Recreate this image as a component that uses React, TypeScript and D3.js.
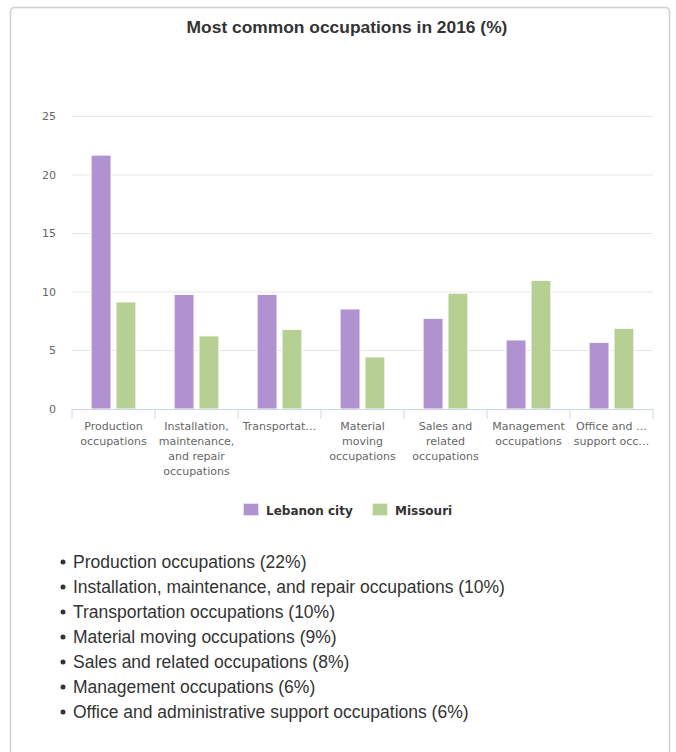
import React from "react";
import * as d3 from "d3";

const categories = [
  "Production occupations",
  "Installation, maintenance, and repair occupations",
  "Transportation occupations",
  "Material moving occupations",
  "Sales and related occupations",
  "Management occupations",
  "Office and administrative support occupations",
];
const tickLabels = [
  ["Production", "occupations"],
  ["Installation,", "maintenance,", "and repair", "occupations"],
  ["Transportat…"],
  ["Material", "moving", "occupations"],
  ["Sales and", "related", "occupations"],
  ["Management", "occupations"],
  ["Office and …", "support occ…"],
];
const lebanon = [21.7, 9.8, 9.8, 8.55, 7.75, 5.9, 5.7];
const missouri = [9.15, 6.25, 6.8, 4.45, 9.9, 11.0, 6.9];
const seriesNames = ["Lebanon city", "Missouri"];
const colors = ["#af92cf", "#b6d094"];
const yTicks = [0, 5, 10, 15, 20, 25];
const listPercents = lebanon.map((v) => Math.round(v));

const W = 676;
const H = 752;
const plot = { left: 72, right: 653, top: 116.5, bottom: 409 };
const axisFont = "'DejaVu Sans', Verdana, sans-serif";
const htmlFont = "'Liberation Sans', Arial, sans-serif";

export default function App() {
  const x = d3.scaleBand<string>().domain(categories).range([plot.left, plot.right]).paddingInner(0).paddingOuter(0);
  const y = d3.scaleLinear().domain([0, 25]).range([plot.bottom, plot.top]);
  const bw = x.bandwidth();
  const groupPad = bw * 0.2;
  const inner = d3
    .scaleBand<number>()
    .domain([0, 1])
    .range([groupPad, bw - groupPad]);
  const slot = inner.bandwidth();
  const pointPad = slot * 0.1;
  const series = [lebanon, missouri];
  const boundaries = categories.map((c) => x(c) as number).concat([plot.right]);

  return (
    <div style={{ position: "absolute", left: 0, top: 0, width: W, height: H, background: "#fff" }}>
      <svg width={W} height={H} style={{ display: "block" }}>
        <rect x={10.5} y={7.5} width={659} height={H + 10} rx={4} fill="#fff" stroke="#cfcfcf" strokeWidth={1.5} />
        <text x={347} y={33} textAnchor="middle" fontFamily={htmlFont} fontWeight="bold" fontSize={17.4} fill="#333">
          Most common occupations in 2016 (%)
        </text>
        {yTicks.map((t) => (
          <g key={t}>
            {t > 0 && <line x1={plot.left} x2={plot.right} y1={y(t)} y2={y(t)} stroke="#e6e6e6" strokeWidth={1} />}
            <text x={56} y={y(t)} dy="0.35em" textAnchor="end" fontFamily={axisFont} fontSize={11} fill="#666">
              {t}
            </text>
          </g>
        ))}
        {series.map((vals, si) =>
          vals.map((v, i) => {
            const x0 = (x(categories[i]) as number) + (inner(si) as number) + pointPad;
            return (
              <rect
                key={`${si}-${i}`}
                x={x0}
                y={y(v)}
                width={slot - 2 * pointPad}
                height={y(0) - y(v)}
                fill={colors[si]}
                stroke="#fff"
                strokeWidth={1}
              />
            );
          })
        )}
        <line x1={plot.left} x2={plot.right} y1={plot.bottom + 0.5} y2={plot.bottom + 0.5} stroke="#ccd6eb" strokeWidth={1} />
        {boundaries.map((b, i) => (
          <line key={i} x1={b} x2={b} y1={plot.bottom} y2={plot.bottom + 10} stroke="#ccd6eb" strokeWidth={1} />
        ))}
        {tickLabels.map((lines, i) => {
          const cx = (x(categories[i]) as number) + bw / 2;
          return (
            <text key={i} textAnchor="middle" fontFamily={axisFont} fontSize={11} fill="#666">
              {lines.map((ln, j) => (
                <tspan key={j} x={cx} y={430 + j * 15}>
                  {ln}
                </tspan>
              ))}
            </text>
          );
        })}
        {/* legend */}
        <rect x={243.5} y={503.5} width={15} height={12} fill={colors[0]} stroke="#e8e0f0" strokeWidth={1} />
        <text x={266} y={514.5} fontFamily={axisFont} fontWeight="bold" fontSize={12} fill="#333">
          {seriesNames[0]}
        </text>
        <rect x={372.5} y={503.5} width={15} height={12} fill={colors[1]} stroke="#e6f0da" strokeWidth={1} />
        <text x={395} y={514.5} fontFamily={axisFont} fontWeight="bold" fontSize={12} fill="#333">
          {seriesNames[1]}
        </text>
        {/* list */}
        {categories.map((c, i) => (
          <g key={c}>
            <circle cx={63} cy={562 + i * 25} r={2.5} fill="#333" />
            <text x={73} y={562 + i * 25} dy="0.36em" fontFamily={htmlFont} fontSize={17.5} fill="#333">
              {`${c} (${listPercents[i]}%)`}
            </text>
          </g>
        ))}
      </svg>
    </div>
  );
}
